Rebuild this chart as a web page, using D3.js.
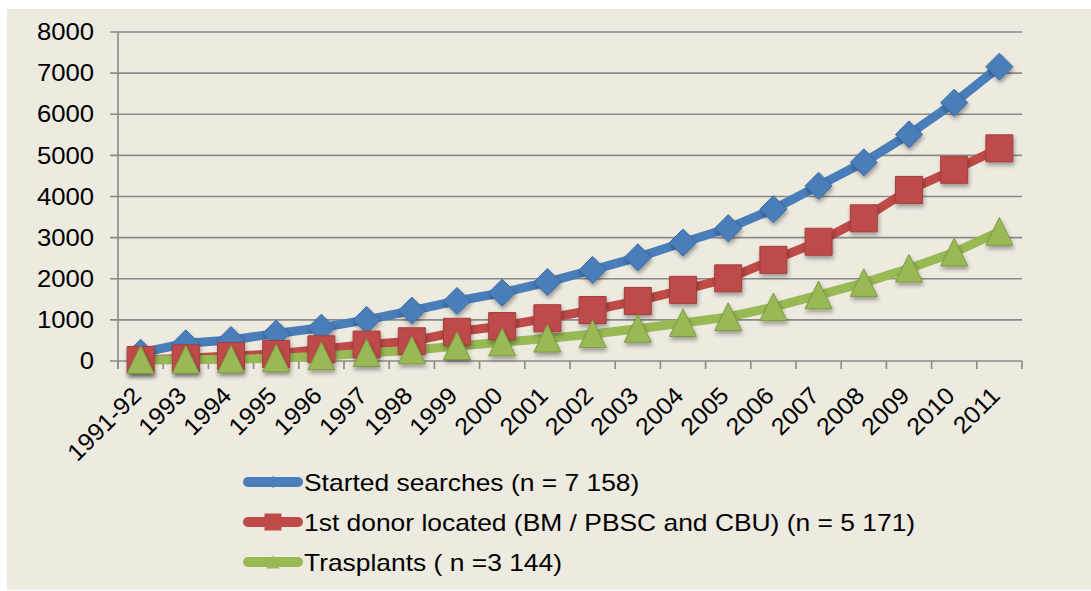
<!DOCTYPE html>
<html>
<head>
<meta charset="utf-8">
<script src="https://cdn.jsdelivr.net/npm/d3@7"></script>
<style>
	body{ margin:0; background:#ffffff; }
	svg{ display:block; font-family:"Liberation Sans", Arial, sans-serif; }
</style>
</head>
<body>
<div id="chart"></div>
<script>
// Data
var categories = ["1991-92","1993","1994","1995","1996","1997","1998","1999","2000","2001",
	"2002","2003","2004","2005","2006","2007","2008","2009","2010","2011"];
var startedSearches = [200,430,510,670,810,1000,1225,1460,1660,1920,2215,2520,2880,3230,3690,4260,4830,5510,6280,7158];
var donorLocated = [25,65,120,170,285,400,480,710,850,1040,1240,1460,1730,2010,2460,2900,3470,4160,4650,5171];
var transplants = [25,30,40,65,115,195,260,365,455,545,655,785,925,1070,1310,1600,1900,2250,2640,3144];
var yTicks = [0,1000,2000,3000,4000,5000,6000,7000,8000];
var seriesNames = ["Started searches (n = 7 158)", "1st donor located (BM / PBSC and CBU) (n = 5 171)", "Trasplants ( n =3 144)"];

var series = [
	{name: seriesNames[0], values: startedSearches, color: "#4a7ebb", stroke: "#3c6aa0", marker: "diamond"},
	{name: seriesNames[1], values: donorLocated, color: "#be4b48", stroke: "#a23f3c", marker: "square"},
	{name: seriesNames[2], values: transplants, color: "#98b954", stroke: "#7d9a42", marker: "triangle"}
];

var width = 1091, height = 591;
var plot = {left: 118, right: 1022, top: 32, bottom: 361};

var svg = d3.select("#chart").append("svg")
	.attr("width", width)
	.attr("height", height);

// stretch text horizontally (reference glyphs are a bit wider)
function widen(sel, factor){
	sel.each(function(){
		var len = this.getComputedTextLength();
		d3.select(this).attr("textLength", len * factor).attr("lengthAdjust", "spacingAndGlyphs");
	});
}

// shadow for markers
var defs = svg.append("defs");
var filter = defs.append("filter").attr("id", "shadow")
	.attr("x", "-30%").attr("y", "-30%").attr("width", "160%").attr("height", "170%");
filter.append("feDropShadow").attr("dx", 1).attr("dy", 3).attr("stdDeviation", 2)
	.attr("flood-color", "#000").attr("flood-opacity", 0.35);

// background panel
svg.append("rect").attr("x", 7).attr("y", 9).attr("width", width - 7).attr("height", height - 10)
	.attr("fill", "#edeae0");

var x = d3.scaleBand().domain(categories).range([plot.left, plot.right]);
var y = d3.scaleLinear().domain([0, 8000]).range([plot.bottom, plot.top]);

// gridlines
svg.append("g").selectAll("line").data(yTicks).enter().append("line")
	.attr("x1", plot.left - 8).attr("x2", plot.right)
	.attr("y1", function(d){ return y(d); }).attr("y2", function(d){ return y(d); })
	.attr("stroke", "#8a8a88").attr("stroke-width", 1.6);

// y axis
var yAxis = svg.append("g").attr("transform", "translate(" + plot.left + ",0)")
	.call(d3.axisLeft(y).tickValues(yTicks).tickSize(0).tickPadding(24).tickFormat(d3.format("d")));
yAxis.select(".domain").remove();
yAxis.selectAll("text").attr("font-size", 24).attr("fill", "#000")
	.attr("font-family", "Liberation Sans, Arial, sans-serif");
widen(yAxis.selectAll("text"), 1.07);
svg.append("line").attr("x1", plot.left).attr("x2", plot.left)
	.attr("y1", plot.top).attr("y2", plot.bottom + 8)
	.attr("stroke", "#8a8a88").attr("stroke-width", 1.6);

// x axis tick marks (between categories)
var xTickPos = categories.map(function(c){ return x(c); }).concat([plot.right]);
svg.append("g").selectAll("line").data(xTickPos).enter().append("line")
	.attr("x1", function(d){ return d; }).attr("x2", function(d){ return d; })
	.attr("y1", plot.bottom).attr("y2", plot.bottom + 8)
	.attr("stroke", "#8a8a88").attr("stroke-width", 1.6);

// x labels
var xLabels = svg.append("g").selectAll("text").data(categories).enter().append("text")
	.attr("transform", function(d){
		return "translate(" + (x(d) + x.bandwidth() / 2 + 2) + "," + (plot.bottom + 36) + ") rotate(-45)";
	})
	.attr("text-anchor", "end")
	.attr("font-size", 24)
	.attr("fill", "#000")
	.text(function(d){ return d; });
widen(xLabels, 1.05);

// marker path builder
function markerPath(type, s){
	if(type == "diamond"){
		return "M0," + (-s) + "L" + s + ",0L0," + s + "L" + (-s) + ",0Z";
	}
	else if(type == "square"){
		return "M" + (-s) + "," + (-s) + "H" + s + "V" + s + "H" + (-s) + "Z";
	}
	else{
		return "M0," + (-s * 1.05) + "L" + s + "," + s + "L" + (-s) + "," + s + "Z";
	}
}

var line = d3.line()
	.x(function(d, i){ return x(categories[i]) + x.bandwidth() / 2; })
	.y(function(d){ return y(d); });

// lines
series.forEach(function(s){
	svg.append("path").datum(s.values)
		.attr("d", line)
		.attr("fill", "none")
		.attr("stroke", s.color)
		.attr("stroke-width", 9)
		.attr("stroke-linejoin", "round");
});

// markers (drawn after all lines, series order)
var markerSize = {diamond: 13.5, square: 13.5, triangle: 13.5};
series.forEach(function(s){
	svg.append("g").attr("filter", "url(#shadow)")
		.selectAll("path").data(s.values).enter().append("path")
		.attr("transform", function(d, i){
			return "translate(" + (x(categories[i]) + x.bandwidth() / 2) + "," + y(d) + ")";
		})
		.attr("d", markerPath(s.marker, markerSize[s.marker]))
		.attr("fill", s.color)
		.attr("stroke", s.stroke)
		.attr("stroke-width", 1);
});

// legend
var legendSmall = {diamond: 6, square: 8.5, triangle: 6.5};
var legend = svg.append("g");
series.forEach(function(s, i){
	var ly = 482 + i * 40;
	var g = legend.append("g").attr("transform", "translate(0," + ly + ")");
	g.append("line").attr("x1", 248).attr("x2", 298).attr("y1", 0).attr("y2", 0)
		.attr("stroke", s.color).attr("stroke-width", 10).attr("stroke-linecap", "round");
	g.append("path").attr("transform", "translate(273,0)")
		.attr("d", markerPath(s.marker, legendSmall[s.marker]))
		.attr("fill", s.color);
	var t = g.append("text").attr("x", 304).attr("y", 0).attr("dy", "0.36em")
		.attr("font-size", 24).attr("fill", "#000")
		.text(s.name);
	widen(t, 1.1);
});
</script>
</body>
</html>
